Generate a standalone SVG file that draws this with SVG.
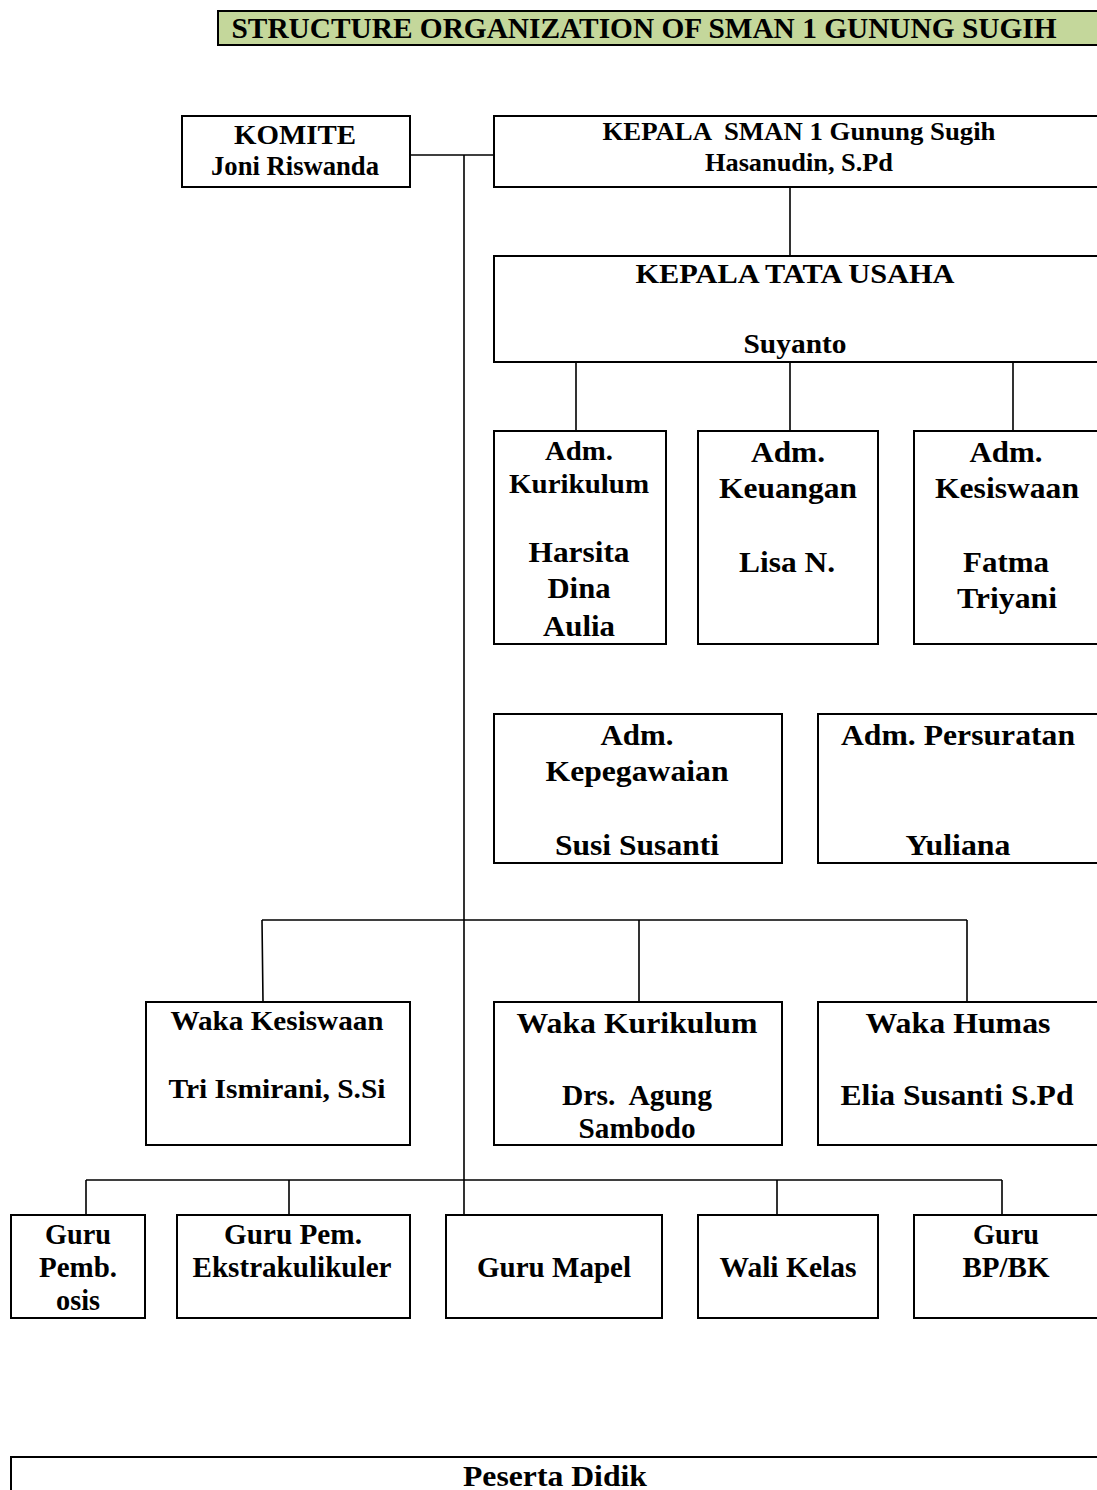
<svg xmlns="http://www.w3.org/2000/svg" width="1097" height="1490" viewBox="0 0 1097 1490">
<style>
.b{fill:#fff;stroke:#000;stroke-width:2}
.c{fill:none;stroke:#000;stroke-width:1.6}
text{font-family:"Liberation Serif","Times New Roman",serif;font-weight:bold;fill:#000;text-anchor:middle}
.s26{font-size:26px}.s27{font-size:27px}.s28{font-size:28px}.s29{font-size:29px}.s30{font-size:30px}
</style>
<rect width="1097" height="1490" fill="#fff"/>
<g id="title">
<rect x="218" y="11" width="890" height="34" fill="#c4d79b" stroke="#000" stroke-width="2"/>
<text class="s30" x="644" y="38" textLength="825" lengthAdjust="spacingAndGlyphs">STRUCTURE ORGANIZATION OF SMAN 1 GUNUNG SUGIH</text>
</g>
<g id="connectors">
<path class="c" d="M410 155H494M464 155V1218M790 187V256M576 362V431M790 362V431M1013 362V431"/>
<path class="c" d="M262 920H967M262 920L263 1002M639 920V1002M967 920V1002"/>
<path class="c" d="M86 1180H1002M86 1180V1215M289 1180V1215M777 1180V1215M1002 1180V1215"/>
</g>
<g id="komite">
<rect class="b" x="182" y="116" width="228" height="71"/>
<text class="s27" x="295" y="144" textLength="122" lengthAdjust="spacingAndGlyphs">KOMITE</text>
<text class="s27" x="295" y="175" textLength="168" lengthAdjust="spacingAndGlyphs">Joni Riswanda</text>
</g>
<g id="kepala">
<rect class="b" x="494" y="116" width="620" height="71"/>
<text class="s26" x="799" y="140" textLength="393" lengthAdjust="spacingAndGlyphs" xml:space="preserve">KEPALA  SMAN 1 Gunung Sugih</text>
<text class="s26" x="799" y="171" textLength="188" lengthAdjust="spacingAndGlyphs">Hasanudin, S.Pd</text>
</g>
<g id="tata-usaha">
<rect class="b" x="494" y="256" width="620" height="106"/>
<text class="s28" x="795" y="283" textLength="319" lengthAdjust="spacingAndGlyphs">KEPALA TATA USAHA</text>
<text class="s28" x="795" y="353" textLength="103" lengthAdjust="spacingAndGlyphs">Suyanto</text>
</g>
<g id="adm-kurikulum">
<rect class="b" x="494" y="431" width="172" height="213"/>
<text class="s27" x="579" y="460" textLength="68" lengthAdjust="spacingAndGlyphs">Adm.</text>
<text class="s27" x="579" y="493" textLength="140" lengthAdjust="spacingAndGlyphs">Kurikulum</text>
<text class="s29" x="579" y="562" textLength="101" lengthAdjust="spacingAndGlyphs">Harsita</text>
<text class="s29" x="579" y="598" textLength="63" lengthAdjust="spacingAndGlyphs">Dina</text>
<text class="s29" x="579" y="636" textLength="72" lengthAdjust="spacingAndGlyphs">Aulia</text>
</g>
<g id="adm-keuangan">
<rect class="b" x="698" y="431" width="180" height="213"/>
<text class="s29" x="788" y="462" textLength="74" lengthAdjust="spacingAndGlyphs">Adm.</text>
<text class="s29" x="788" y="498" textLength="138" lengthAdjust="spacingAndGlyphs">Keuangan</text>
<text class="s29" x="787" y="572" textLength="96" lengthAdjust="spacingAndGlyphs">Lisa N.</text>
</g>
<g id="adm-kesiswaan">
<rect class="b" x="914" y="431" width="200" height="213"/>
<text class="s29" x="1006" y="462" textLength="73" lengthAdjust="spacingAndGlyphs">Adm.</text>
<text class="s29" x="1007" y="498" textLength="144" lengthAdjust="spacingAndGlyphs">Kesiswaan</text>
<text class="s29" x="1006" y="572" textLength="86" lengthAdjust="spacingAndGlyphs">Fatma</text>
<text class="s29" x="1007" y="608" textLength="100" lengthAdjust="spacingAndGlyphs">Triyani</text>
</g>
<g id="adm-kepegawaian">
<rect class="b" x="494" y="714" width="288" height="149"/>
<text class="s29" x="637" y="745" textLength="73" lengthAdjust="spacingAndGlyphs">Adm.</text>
<text class="s29" x="637" y="781" textLength="183" lengthAdjust="spacingAndGlyphs">Kepegawaian</text>
<text class="s29" x="637" y="855" textLength="164" lengthAdjust="spacingAndGlyphs">Susi Susanti</text>
</g>
<g id="adm-persuratan">
<rect class="b" x="818" y="714" width="296" height="149"/>
<text class="s29" x="958" y="745" textLength="234" lengthAdjust="spacingAndGlyphs">Adm. Persuratan</text>
<text class="s29" x="958" y="855" textLength="105" lengthAdjust="spacingAndGlyphs">Yuliana</text>
</g>
<g id="waka-kesiswaan">
<rect class="b" x="146" y="1002" width="264" height="143"/>
<text class="s28" x="277" y="1030" textLength="213" lengthAdjust="spacingAndGlyphs">Waka Kesiswaan</text>
<text class="s28" x="277" y="1098" textLength="217" lengthAdjust="spacingAndGlyphs">Tri Ismirani, S.Si</text>
</g>
<g id="waka-kurikulum">
<rect class="b" x="494" y="1002" width="288" height="143"/>
<text class="s29" x="637" y="1033" textLength="241" lengthAdjust="spacingAndGlyphs">Waka Kurikulum</text>
<text class="s29" x="637" y="1105" textLength="150" lengthAdjust="spacingAndGlyphs" xml:space="preserve">Drs.  Agung</text>
<text class="s29" x="637" y="1138" textLength="117" lengthAdjust="spacingAndGlyphs">Sambodo</text>
</g>
<g id="waka-humas">
<rect class="b" x="818" y="1002" width="296" height="143"/>
<text class="s29" x="958" y="1033" textLength="185" lengthAdjust="spacingAndGlyphs">Waka Humas</text>
<text class="s29" x="957" y="1105" textLength="233" lengthAdjust="spacingAndGlyphs">Elia Susanti S.Pd</text>
</g>
<g id="guru-pembina-osis">
<rect class="b" x="11" y="1215" width="134" height="103"/>
<text class="s29" x="78" y="1244" textLength="66" lengthAdjust="spacingAndGlyphs">Guru</text>
<text class="s29" x="78" y="1277" textLength="78" lengthAdjust="spacingAndGlyphs">Pemb.</text>
<text class="s29" x="78" y="1310" textLength="44" lengthAdjust="spacingAndGlyphs">osis</text>
</g>
<g id="guru-ekstra">
<rect class="b" x="177" y="1215" width="233" height="103"/>
<text class="s29" x="293" y="1244" textLength="138" lengthAdjust="spacingAndGlyphs">Guru Pem.</text>
<text class="s29" x="292" y="1277" textLength="199" lengthAdjust="spacingAndGlyphs">Ekstrakulikuler</text>
</g>
<g id="guru-mapel">
<rect class="b" x="446" y="1215" width="216" height="103"/>
<text class="s29" x="554" y="1277" textLength="154" lengthAdjust="spacingAndGlyphs">Guru Mapel</text>
</g>
<g id="wali-kelas">
<rect class="b" x="698" y="1215" width="180" height="103"/>
<text class="s29" x="788" y="1277" textLength="137" lengthAdjust="spacingAndGlyphs">Wali Kelas</text>
</g>
<g id="guru-bpbk">
<rect class="b" x="914" y="1215" width="200" height="103"/>
<text class="s29" x="1006" y="1244" textLength="66" lengthAdjust="spacingAndGlyphs">Guru</text>
<text class="s29" x="1006" y="1277" textLength="87" lengthAdjust="spacingAndGlyphs">BP/BK</text>
</g>
<g id="peserta-didik">
<rect class="b" x="11" y="1457" width="1103" height="50"/>
<text class="s29" x="555" y="1486" textLength="184" lengthAdjust="spacingAndGlyphs">Peserta Didik</text>
</g>
</svg>
